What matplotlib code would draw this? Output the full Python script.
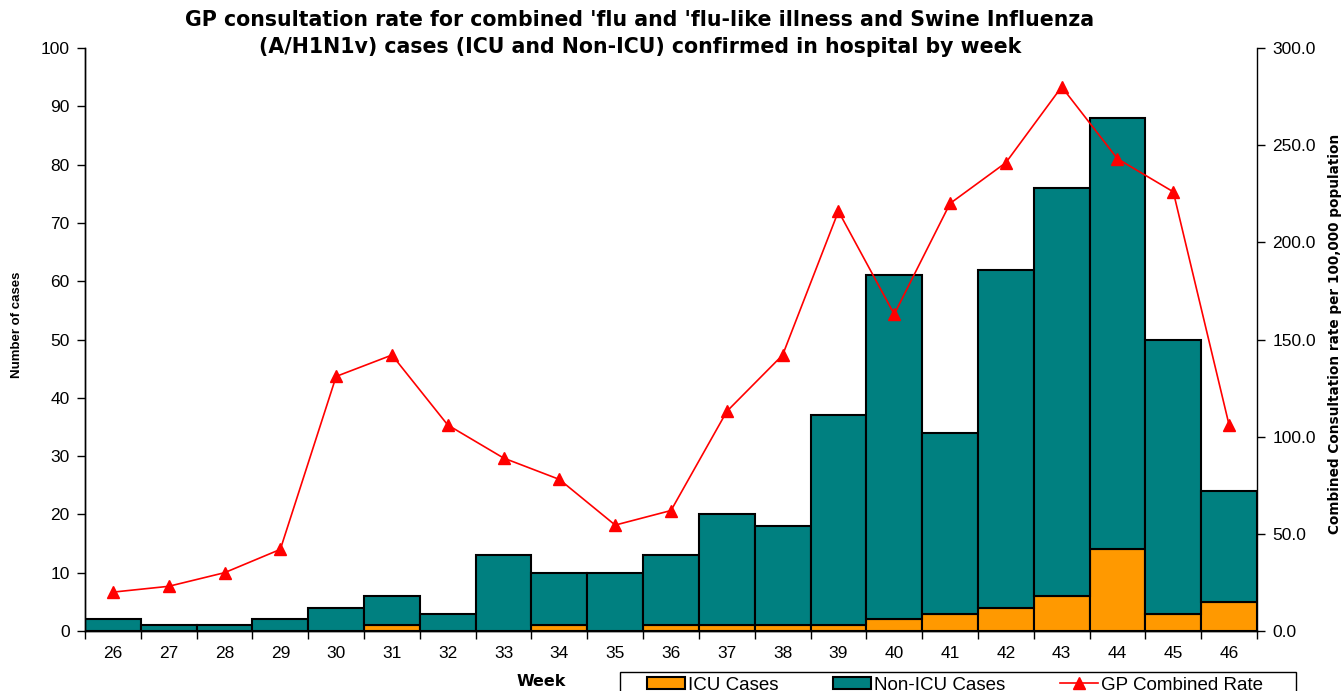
import matplotlib.pyplot as plt
from matplotlib.ticker import FormatStrFormatter
from matplotlib.patches import Rectangle
import numpy as np

plt.rcParams['font.family'] = ['Liberation Sans', 'DejaVu Sans']

# weekly data
weeks = [26, 27, 28, 29, 30, 31, 32, 33, 34, 35, 36, 37, 38, 39, 40, 41, 42, 43, 44, 45, 46]
icu = [0, 0, 0, 0, 0, 1, 0, 0, 1, 0, 1, 1, 1, 1, 2, 3, 4, 6, 14, 3, 5]
total = [2, 1, 1, 2, 4, 6, 3, 13, 10, 10, 13, 20, 18, 37, 61, 34, 62, 76, 88, 50, 24]
non_icu = [t - i for t, i in zip(total, icu)]
gp_rate = [20, 23, 30, 42, 131, 142, 106, 89, 78, 54.5, 62, 113, 142, 216, 163,
           220, 241, 280, 243, 226, 106]

teal = '#008080'
orange = '#FF9900'
red = '#FF0000'

W, H = 1344, 691
fig = plt.figure(figsize=(W / 100, H / 100), dpi=100)
ax = fig.add_axes([85 / W, 60 / H, 1172 / W, 583 / H])
ax2 = ax.twinx()

x = np.array(weeks)
ax.bar(x, icu, width=1.0, color=orange, edgecolor='black', linewidth=1.5, label='ICU Cases')
ax.bar(x, non_icu, width=1.0, bottom=icu, color=teal, edgecolor='black', linewidth=1.5,
       label='Non-ICU Cases')
ax2.plot(x, gp_rate, color=red, linewidth=1.2, marker='^', markersize=8,
         label='GP Combined Rate')

ax.set_xlim(25.5, 46.5)
ax.set_ylim(0, 100)
ax.set_yticks(range(0, 101, 10))
ax2.set_ylim(0, 300)
ax2.set_yticks(range(0, 301, 50))
ax2.yaxis.set_major_formatter(FormatStrFormatter('%.1f'))

ax.set_xticks(x)
ax.set_xticklabels([str(w) for w in weeks])
ax.set_xticks(np.arange(25.5, 47, 1), minor=True)
ax.tick_params(axis='x', which='major', length=0, pad=11, labelsize=12.5)
ax.tick_params(axis='x', which='minor', length=6, width=1)
ax.tick_params(axis='y', length=6, width=1, labelsize=12.5, pad=5)
ax2.tick_params(axis='y', length=6, width=1, labelsize=12.5, pad=5)

for a in (ax, ax2):
    a.spines['top'].set_visible(False)
    for s in ('left', 'right', 'bottom'):
        a.spines[s].set_linewidth(1)
ax.spines['right'].set_visible(False)

# axis titles
fig.text(17 / W, 1 - 325 / H, 'Number of cases', rotation=90, ha='center', va='center',
         fontsize=9.5, fontweight='bold')
fig.text(1335 / W, 1 - 334 / H, 'Combined Consultation rate per 100,000 population',
         rotation=90, ha='center', va='center', fontsize=9.8, fontweight='bold',
         family='DejaVu Sans')
fig.text(541 / W, 1 - 682 / H, 'Week', ha='center', va='center', fontsize=11.5,
         fontweight='bold', family='DejaVu Sans')
fig.text(640 / W, 1 - 20 / H,
         "GP consultation rate for combined 'flu and 'flu-like illness and Swine Influenza",
         ha='center', va='center', fontsize=14.8, fontweight='bold', family='DejaVu Sans')
fig.text(640 / W, 1 - 47 / H,
         "(A/H1N1v) cases (ICU and Non-ICU) confirmed in hospital by week",
         ha='center', va='center', fontsize=14.8, fontweight='bold', family='DejaVu Sans')

# legend box along the bottom edge
fig.patches.append(Rectangle((620 / W, -0.02), (1296 - 620) / W, 0.02 + (691 - 672) / H,
                             transform=fig.transFigure, facecolor='white',
                             edgecolor='black', linewidth=1))
h1, l1 = ax.get_legend_handles_labels()
h2, l2 = ax2.get_legend_handles_labels()
leg = fig.legend(h1 + h2, l1 + l2, loc='center left', ncol=3,
                 bbox_to_anchor=(647 / W, 1 - 685 / H), fontsize=13.5,
                 frameon=False, borderpad=0, borderaxespad=0,
                 handlelength=2.0, handleheight=0.6, handletextpad=0.2,
                 columnspacing=2.9)

fig.savefig('out.png', dpi=100)
